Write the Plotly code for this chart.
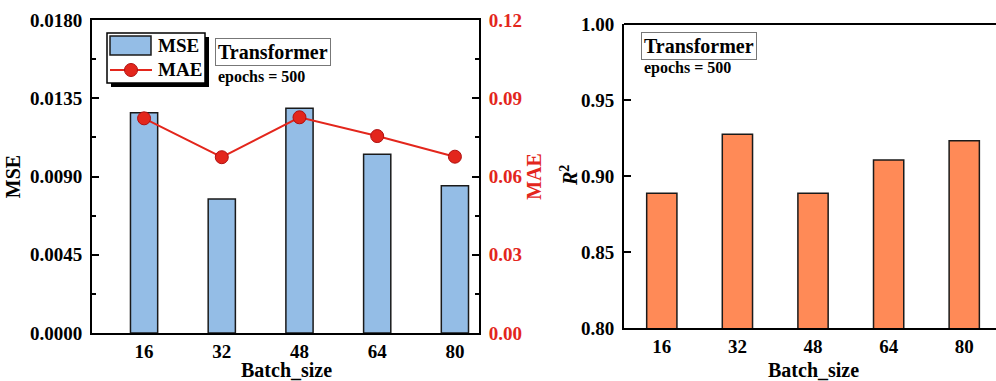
import plotly.graph_objects as go

batch = ["16", "32", "48", "64", "80"]
mse = [0.01267, 0.00771, 0.01292, 0.01028, 0.00847]
mae = [0.0823, 0.0674, 0.0827, 0.0755, 0.0676]
r2 = [0.8886, 0.9274, 0.8886, 0.9105, 0.9232]

FONT = "Liberation Serif"
BLUE = "#94BDE6"
ORANGE = "#FF8A57"
RED = "#E3261C"
W, H = 996, 381

fig = go.Figure()
fig.add_trace(go.Bar(x=batch, y=mse, name="MSE", marker=dict(color=BLUE, line=dict(color="#1a1a1a", width=1.5)),
                     width=0.35, xaxis="x", yaxis="y"))
fig.add_trace(go.Scatter(x=batch, y=mae, name="MAE", mode="lines+markers",
                         line=dict(color=RED, width=2),
                         marker=dict(size=13, color=RED, line=dict(color="#B01010", width=1)),
                         xaxis="x", yaxis="y2"))
fig.add_trace(go.Bar(x=batch, y=r2, name="R2",
                     marker=dict(color=ORANGE, line=dict(color="#1a1a1a", width=1.5)),
                     width=0.40, xaxis="x3", yaxis="y3"))

def px_x(p):
    return p / W

def px_y(p):
    return 1 - p / H

tickfont = dict(family=FONT, size=19, color="black", weight="bold")
titlefont = dict(family=FONT, size=20, color="black", weight="bold")

fig.update_layout(
    width=W, height=H,
    margin=dict(l=0, r=0, t=0, b=0, autoexpand=False),
    paper_bgcolor="white", plot_bgcolor="white",
    font=dict(family=FONT, weight="bold", color="black"),
    barmode="overlay",
    showlegend=False,
    xaxis=dict(domain=[px_x(92), px_x(479)], anchor="y", type="category", automargin=False,
               range=[-0.67, 4.31], showline=True, linecolor="black", linewidth=2, mirror=True,
               ticks="", tickfont=tickfont, showgrid=False, ticklabelstandoff=0),
    yaxis=dict(domain=[px_y(333), px_y(20)], anchor="x", range=[0, 0.018], automargin=False,
               tickvals=[0, 0.0045, 0.009, 0.0135, 0.018], tickformat=".4f",
               showline=True, linecolor="black", linewidth=2,
               ticks="inside", ticklen=7, tickwidth=2, tickcolor="black",
               minor=dict(ticks="inside", ticklen=4, tickwidth=2, tickcolor="black", dtick=0.00225, showgrid=False),
               tickfont=tickfont, showgrid=False, zeroline=False, ticklabelstandoff=4,
               title=dict(text="MSE", font=titlefont, standoff=4)),
    yaxis2=dict(overlaying="y", side="right", anchor="x", range=[0, 0.12], automargin=False,
                tickvals=[0, 0.03, 0.06, 0.09, 0.12], tickformat=".2f",
                showline=True, linecolor="black", linewidth=2,
                ticks="inside", ticklen=7, tickwidth=2, tickcolor="black",
                minor=dict(ticks="inside", ticklen=4, tickwidth=2, tickcolor="black", dtick=0.015, showgrid=False),
                tickfont=dict(family=FONT, size=19, color=RED, weight="bold"),
                showgrid=False, zeroline=False, ticklabelstandoff=4,
                title=dict(text="MAE", font=dict(family=FONT, size=20, color=RED, weight="bold"), standoff=6)),
    xaxis3=dict(domain=[px_x(624), 1.0], anchor="y3", type="category", automargin=False,
                range=[-0.5, 4.42], showline=True, linecolor="black", linewidth=2,
                ticks="", tickfont=tickfont, showgrid=False, ticklabelstandoff=0),
    yaxis3=dict(domain=[px_y(328), px_y(24)], anchor="x3", range=[0.80, 1.00], automargin=False,
                tickvals=[0.80, 0.85, 0.90, 0.95, 1.00], tickformat=".2f",
                showline=True, linecolor="black", linewidth=2,
                ticks="inside", ticklen=7, tickwidth=2, tickcolor="black",
                tickfont=tickfont, showgrid=False, zeroline=False, ticklabelstandoff=4),
)

P = dict(xref="paper", yref="paper")

def rect(x0, y0, x1, y1, **kw):
    fig.add_shape(type="rect", x0=px_x(x0), x1=px_x(x1), y0=px_y(y1), y1=px_y(y0), **P, **kw)

# manual legend: shadow, box, bar patch, line + marker
rect(111, 37, 209, 87, fillcolor="black", line=dict(width=0))
rect(107, 33, 205, 83, fillcolor="white", line=dict(color="black", width=1.5))
rect(110, 36, 151, 55, fillcolor=BLUE, line=dict(color="#1a1a1a", width=1.5))
fig.add_shape(type="line", x0=px_x(110), x1=px_x(152), y0=px_y(70), y1=px_y(70), **P,
              line=dict(color=RED, width=2))
fig.add_shape(type="circle", x0=px_x(124.5), x1=px_x(137.5), y0=px_y(76.5), y1=px_y(63.5), **P,
              fillcolor=RED, line=dict(color="#B01010", width=1))
leg = dict(font=dict(family=FONT, size=19, color="black", weight="bold"), showarrow=False,
           xanchor="left", yanchor="middle", **P)
fig.add_annotation(text="MSE", x=px_x(156), y=px_y(46), **leg)
fig.add_annotation(text="MAE", x=px_x(156), y=px_y(70), **leg)

# top frame line of right panel
fig.add_shape(type="line", xref="x3 domain", yref="y3 domain", x0=0, x1=1, y0=1, y1=1,
              line=dict(color="black", width=2))

# axis titles placed as annotations
fig.add_annotation(text="Batch_size", x=px_x(286), y=px_y(370), showarrow=False,
                   xanchor="center", yanchor="middle", font=titlefont, **P)
fig.add_annotation(text="Batch_size", x=px_x(813), y=px_y(370), showarrow=False,
                   xanchor="center", yanchor="middle", font=titlefont, **P)
fig.add_annotation(text="<i>R</i><sup>2</sup>", x=px_x(569), y=px_y(176), showarrow=False,
                   textangle=-90, xanchor="center", yanchor="middle", font=titlefont, **P)

ann_box = dict(font=dict(family=FONT, size=20, color="black", weight="bold"),
               bordercolor="#777777", borderwidth=1, bgcolor="white", borderpad=2, showarrow=False,
               xanchor="left", yanchor="middle", **P)
fig.add_annotation(text="Transformer", x=px_x(215), y=px_y(52), **ann_box)
fig.add_annotation(text="Transformer", x=px_x(641), y=px_y(46), **ann_box)
ep = dict(font=dict(family=FONT, size=16, color="black", weight="bold"), showarrow=False,
          xanchor="left", yanchor="middle", **P)
fig.add_annotation(text="epochs = 500", x=px_x(216), y=px_y(77), **ep)
fig.add_annotation(text="epochs = 500", x=px_x(642), y=px_y(68), **ep)

fig.write_html("out.html")
